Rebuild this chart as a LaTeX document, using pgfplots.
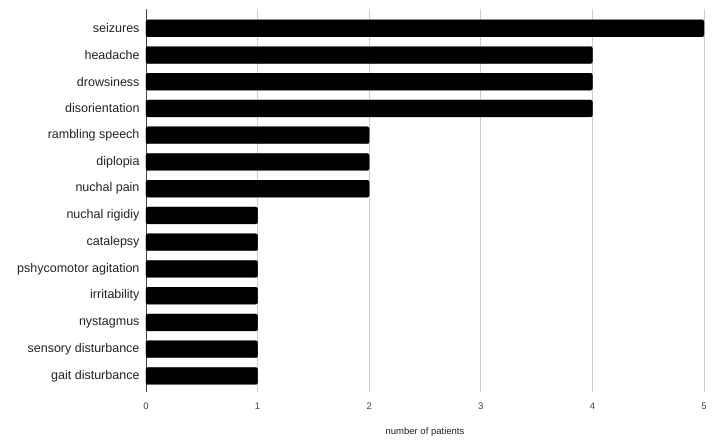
\documentclass[border=0pt]{standalone}
\usepackage{fontspec}
\setmainfont{Liberation Sans}
\usepackage{pgfplots}
\pgfplotsset{compat=1.18}
\definecolor{gridgray}{HTML}{CCCCCC}
\definecolor{labelgray}{HTML}{222222}
\definecolor{tickgray}{HTML}{444444}
\begin{document}
\begin{tikzpicture}
\begin{axis}[
    scale only axis,
    width=558bp, height=383bp,
    xbar,
    bar width=17bp,
    xmin=0, xmax=5,
    ymin=-0.72, ymax=13.6,
    y dir=reverse,
    ytick={0,...,13},
    yticklabels={seizures, headache, drowsiness, disorientation, rambling speech, diplopia, nuchal pain, nuchal rigidiy, catalepsy, pshycomotor agitation, irritability, nystagmus, sensory disturbance, gait disturbance},
    xtick={0,...,5},
    xmajorgrids,
    grid style={gridgray, line width=0.8bp},
    major tick length=0pt,
    axis x line*=bottom,
    x axis line style={draw=none},
    axis y line*=left,
    y axis line style={draw=tickgray, line width=0.8bp, -},
    yticklabel style={font=\fontsize{12.5bp}{14bp}\selectfont, text=labelgray, xshift=-3bp},
    xticklabel style={font=\fontsize{9.5bp}{11bp}\selectfont, text=tickgray, yshift=-7bp},
    /pgf/number format/assume math mode=true,
    xlabel={number of patients},
    xlabel style={font=\fontsize{9.5bp}{11bp}\selectfont, text=labelgray, yshift=-12bp},
]
\addplot[fill=black, draw=black, rounded corners=2bp] coordinates {
    (5,0) (4,1) (4,2) (4,3) (2,4) (2,5) (2,6)
    (1,7) (1,8) (1,9) (1,10) (1,11) (1,12) (1,13)
};
\coordinate (o) at (rel axis cs:0,1);
\end{axis}
\pgfresetboundingbox
\useasboundingbox (o) ++(-146bp,9bp) rectangle ++(715bp,-440bp);
\end{tikzpicture}
\end{document}
